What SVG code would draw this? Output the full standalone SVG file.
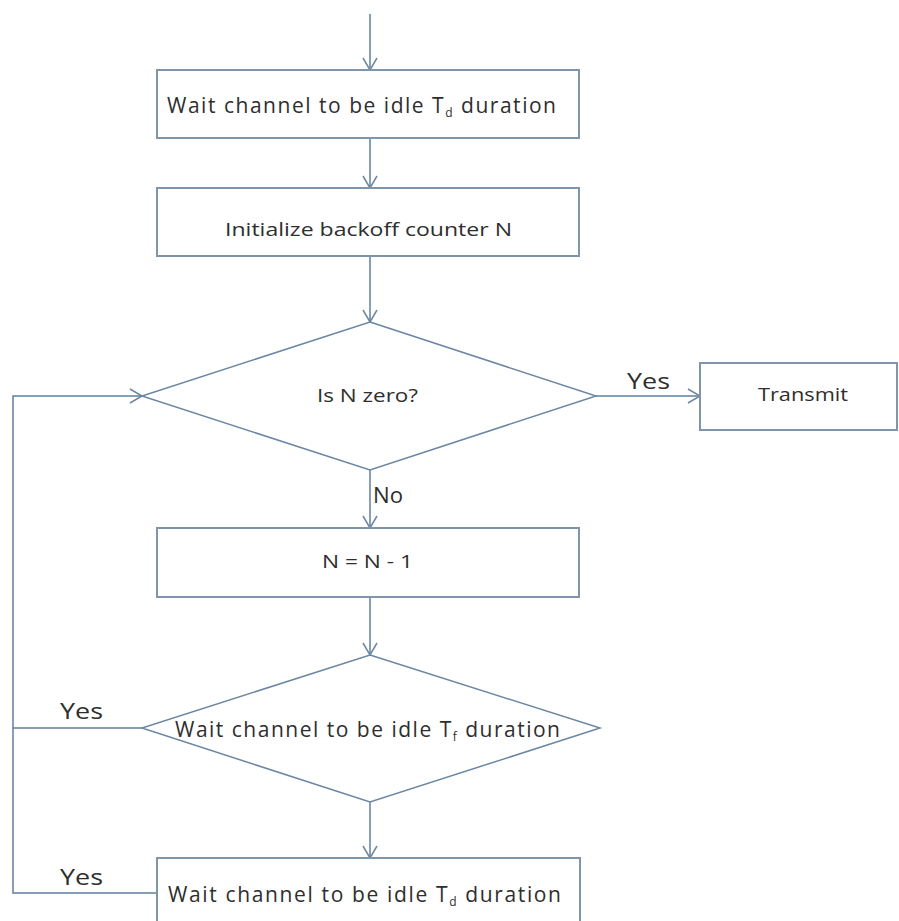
<svg xmlns="http://www.w3.org/2000/svg" width="899" height="921" viewBox="0 0 899 921">
  <style>
    .box { fill: #ffffff; stroke: #7f95ab; stroke-width: 2; }
    .dia { fill: #ffffff; stroke: #6b87a3; stroke-width: 1.5; }
    .wire { fill: none; stroke: #5f7f9f; stroke-width: 1.5; }
    text { font-family: "Open Sans", "Noto Sans", "DejaVu Sans", sans-serif; fill: #2e2e2e; }
    .big { font-size: 21px; }
    .mid { font-size: 19px; }
    .lbl { font-size: 22px; }
    .sub { font-size: 12px; }
  </style>
  <defs>
    <marker id="open" markerUnits="userSpaceOnUse" markerWidth="16" markerHeight="18" refX="13" refY="8" orient="auto">
      <path d="M1,1 L13,8 L1,15" fill="none" stroke="#6b87a3" stroke-width="1.5"/>
    </marker>
  </defs>
  <rect width="899" height="921" fill="#ffffff"/>

  <g id="connectors">
    <line class="wire" x1="370" y1="14" x2="370" y2="70" marker-end="url(#open)"/>
    <line class="wire" x1="370" y1="138" x2="370" y2="188" marker-end="url(#open)"/>
    <line class="wire" x1="370" y1="256" x2="370" y2="322" marker-end="url(#open)"/>
    <line class="wire" x1="596" y1="396" x2="700" y2="396" marker-end="url(#open)"/>
    <line class="wire" x1="370" y1="470" x2="370" y2="528" marker-end="url(#open)"/>
    <line class="wire" x1="370" y1="597" x2="370" y2="655" marker-end="url(#open)"/>
    <line class="wire" x1="370" y1="802" x2="370" y2="858" marker-end="url(#open)"/>
    <line class="wire" x1="142" y1="728" x2="13" y2="728"/>
    <polyline class="wire" points="157,893 13,893 13,396 142,396" marker-end="url(#open)"/>
    <text class="lbl" x="627" y="389" textLength="43" lengthAdjust="spacingAndGlyphs">Yes</text>
    <text class="lbl" x="373" y="503" textLength="30" lengthAdjust="spacingAndGlyphs">No</text>
    <text class="lbl" x="60" y="719" textLength="43" lengthAdjust="spacingAndGlyphs">Yes</text>
    <text class="lbl" x="60" y="885" textLength="43" lengthAdjust="spacingAndGlyphs">Yes</text>
  </g>

  <g id="wait-td-1">
    <rect class="box" x="157" y="70" width="422" height="68"/>
    <text class="big" x="167" y="113" textLength="389">Wait channel to be idle T<tspan class="sub" dy="4">d</tspan><tspan dy="-4"> duration</tspan></text>
  </g>

  <g id="init-backoff">
    <rect class="box" x="157" y="188" width="422" height="68"/>
    <text class="mid" x="225" y="236" textLength="287" lengthAdjust="spacingAndGlyphs">Initialize backoff counter N</text>
  </g>

  <g id="is-n-zero">
    <polygon class="dia" points="370,322 596,396 370,470 142,396"/>
    <text class="mid" x="317" y="402" textLength="101" lengthAdjust="spacingAndGlyphs">Is N zero?</text>
  </g>

  <g id="transmit">
    <rect class="box" x="700" y="363" width="197" height="67"/>
    <text class="mid" x="758" y="401" textLength="90" lengthAdjust="spacingAndGlyphs">Transmit</text>
  </g>

  <g id="decrement">
    <rect class="box" x="157" y="528" width="422" height="69"/>
    <text class="mid" x="322" y="568" textLength="91" lengthAdjust="spacingAndGlyphs">N = N - 1</text>
  </g>

  <g id="wait-tf">
    <polygon class="dia" points="370,655 600,728 370,802 142,728"/>
    <text class="big" x="175" y="737" textLength="385">Wait channel to be idle T<tspan class="sub" dy="4">f</tspan><tspan dy="-4"> duration</tspan></text>
  </g>

  <g id="wait-td-2">
    <rect class="box" x="157" y="858" width="423" height="80"/>
    <text class="big" x="168" y="902" textLength="393">Wait channel to be idle T<tspan class="sub" dy="4">d</tspan><tspan dy="-4"> duration</tspan></text>
  </g>
</svg>
